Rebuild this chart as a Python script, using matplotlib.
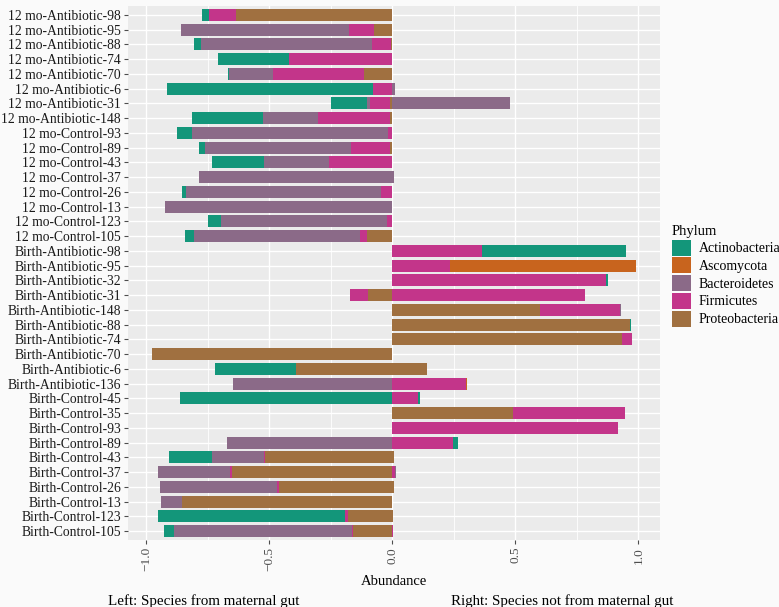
import matplotlib
matplotlib.use("Agg")
import matplotlib.pyplot as plt
from matplotlib.patches import Patch
import numpy as np

plt.rcParams['font.family'] = ['Liberation Serif', 'DejaVu Serif']

samples = [
    "12 mo-Antibiotic-98", "12 mo-Antibiotic-95", "12 mo-Antibiotic-88", "12 mo-Antibiotic-74",
    "12 mo-Antibiotic-70", "12 mo-Antibiotic-6", "12 mo-Antibiotic-31", "12 mo-Antibiotic-148",
    "12 mo-Control-93", "12 mo-Control-89", "12 mo-Control-43", "12 mo-Control-37",
    "12 mo-Control-26", "12 mo-Control-13", "12 mo-Control-123", "12 mo-Control-105",
    "Birth-Antibiotic-98", "Birth-Antibiotic-95", "Birth-Antibiotic-32", "Birth-Antibiotic-31",
    "Birth-Antibiotic-148", "Birth-Antibiotic-88", "Birth-Antibiotic-74", "Birth-Antibiotic-70",
    "Birth-Antibiotic-6", "Birth-Antibiotic-136", "Birth-Control-45", "Birth-Control-35",
    "Birth-Control-93", "Birth-Control-89", "Birth-Control-43", "Birth-Control-37",
    "Birth-Control-26", "Birth-Control-13", "Birth-Control-123", "Birth-Control-105",
]

phyla = ["Actinobacteria", "Ascomycota", "Bacteroidetes", "Firmicutes", "Proteobacteria"]
colors = ["#13967A", "#C8641E", "#8B6A88", "#C3358A", "#A07040"]

# Left side: species from maternal gut (plotted as negative abundance)
left_actino = [0.027, 0, 0.028, 0.289, 0.005, 0.837, 0.148, 0.286,
               0.061, 0.023, 0.211, 0, 0.016, 0, 0.053, 0.038,
               0, 0, 0, 0, 0, 0, 0, 0, 0.332, 0,
               0.865, 0, 0, 0, 0.177, 0, 0, 0, 0.760, 0.040]
left_asco = [0] * 36
left_bact = [0, 0.684, 0.699, 0, 0.178, 0, 0.011, 0.225,
             0.796, 0.595, 0.266, 0.788, 0.794, 0.923, 0.673, 0.675,
             0, 0, 0, 0, 0, 0, 0, 0, 0, 0.648,
             0, 0, 0, 0.671, 0.208, 0.290, 0.476, 0.085, 0, 0.725]
left_firm = [0.111, 0.099, 0.076, 0.417, 0.371, 0.075, 0.081, 0.294,
             0.018, 0.158, 0.256, 0, 0.047, 0, 0.022, 0.027,
             0, 0, 0, 0.073, 0, 0, 0, 0, 0, 0,
             0, 0, 0, 0, 0.007, 0.009, 0.007, 0, 0.012, 0.004]
left_proteo = [0.636, 0.076, 0.005, 0.003, 0.116, 0.003, 0.010, 0.008,
               0, 0.009, 0, 0, 0, 0, 0, 0.103,
               0, 0, 0, 0.099, 0, 0, 0, 0.977, 0.390, 0,
               0, 0, 0, 0, 0.517, 0.653, 0.462, 0.854, 0.180, 0.161]

# Right side: species not from maternal gut
right_actino = [0, 0, 0, 0, 0, 0, 0, 0,
                0, 0, 0, 0, 0, 0, 0, 0,
                0.587, 0, 0.007, 0, 0, 0.005, 0, 0, 0, 0,
                0.009, 0, 0, 0.020, 0, 0, 0, 0, 0, 0]
right_asco = [0, 0, 0, 0, 0, 0, 0, 0,
              0, 0, 0, 0, 0, 0, 0, 0,
              0, 0.756, 0, 0, 0, 0, 0, 0, 0, 0.004,
              0, 0, 0, 0, 0, 0, 0, 0, 0, 0]
right_bact = [0, 0, 0, 0, 0, 0.010, 0.478, 0,
              0, 0, 0, 0.005, 0, 0, 0, 0,
              0, 0, 0, 0, 0.004, 0, 0, 0, 0, 0,
              0, 0, 0, 0, 0, 0.004, 0, 0, 0, 0]
right_firm = [0, 0, 0, 0, 0, 0, 0, 0,
              0, 0, 0, 0, 0, 0, 0, 0,
              0.363, 0.235, 0.869, 0.784, 0.325, 0, 0.042, 0, 0, 0.300,
              0.103, 0.455, 0.918, 0.246, 0, 0.012, 0, 0, 0, 0.004]
right_proteo = [0, 0, 0, 0, 0, 0, 0, 0,
                0, 0, 0, 0, 0, 0, 0, 0,
                0, 0, 0, 0, 0.600, 0.966, 0.934, 0, 0.140, 0,
                0, 0.490, 0, 0, 0.005, 0, 0.005, 0, 0.004, 0]

left = {"Actinobacteria": left_actino, "Ascomycota": left_asco, "Bacteroidetes": left_bact,
        "Firmicutes": left_firm, "Proteobacteria": left_proteo}
right = {"Actinobacteria": right_actino, "Ascomycota": right_asco, "Bacteroidetes": right_bact,
         "Firmicutes": right_firm, "Proteobacteria": right_proteo}
col = dict(zip(phyla, colors))

fig = plt.figure(figsize=(7.79, 6.07), dpi=100)
fig.patch.set_facecolor("#FAFAFA")
ax = fig.add_axes([128 / 779, 1 - 540 / 607, (660 - 128) / 779, (540 - 6) / 607])
ax.set_facecolor("#EBEBEB")

n = len(samples)
y = np.arange(n)[::-1]
stack_order = ["Proteobacteria", "Firmicutes", "Bacteroidetes", "Ascomycota", "Actinobacteria"]
lbase = np.zeros(n)
rbase = np.zeros(n)
for p in stack_order:
    lv = np.array(left[p], dtype=float)
    rv = np.array(right[p], dtype=float)
    ax.barh(y, -lv, left=-lbase, height=0.8, color=col[p], linewidth=0, zorder=3)
    ax.barh(y, rv, left=rbase, height=0.8, color=col[p], linewidth=0, zorder=3)
    lbase += lv
    rbase += rv

ax.set_xlim(-1.075, 1.088)
ax.set_ylim(-0.6, n - 1 + 0.6)
ax.set_yticks(y)
ax.set_yticklabels(samples, fontsize=9.8, color="#1A1A1A")
ax.set_xticks([-1.0, -0.5, 0.0, 0.5, 1.0])
ax.set_xticklabels(["\u22121.0", "\u22120.5", "0.0", "0.5", "1.0"], rotation=90,
                   fontsize=9.5, color="#4D4D4D")
ax.set_xticks([-0.75, -0.25, 0.25, 0.75], minor=True)
ax.tick_params(axis="both", which="major", length=3, color="#4D4D4D", width=0.8, pad=2)
ax.tick_params(axis="x", which="minor", length=0)
ax.grid(True, which="major", color="white", linewidth=1.0, zorder=0)
ax.grid(True, which="minor", axis="x", color="white", linewidth=0.6, zorder=0)
ax.set_axisbelow(True)
for s in ax.spines.values():
    s.set_visible(False)
ax.set_xlabel("Abundance", fontsize=10.5, labelpad=3)

fig.text(108 / 779, 1 - 601 / 607, "Left: Species from maternal gut", fontsize=10.8,
         ha="left", va="center")
fig.text(673 / 779, 1 - 601 / 607, "Right: Species not from maternal gut", fontsize=10.8,
         ha="right", va="center")

handles = [Patch(facecolor=col[p], edgecolor="none", label=p) for p in phyla]
leg = fig.legend(handles=handles, title="Phylum", loc="upper left",
                 bbox_to_anchor=(672 / 779, 1 - 225 / 607), frameon=False,
                 fontsize=10, title_fontsize=10.5, handlelength=1.4, handleheight=1.4,
                 handletextpad=0.5, labelspacing=0.12, borderaxespad=0, borderpad=0)
leg._legend_box.align = "left"

fig.savefig("out.png", dpi=100, facecolor=fig.get_facecolor())
